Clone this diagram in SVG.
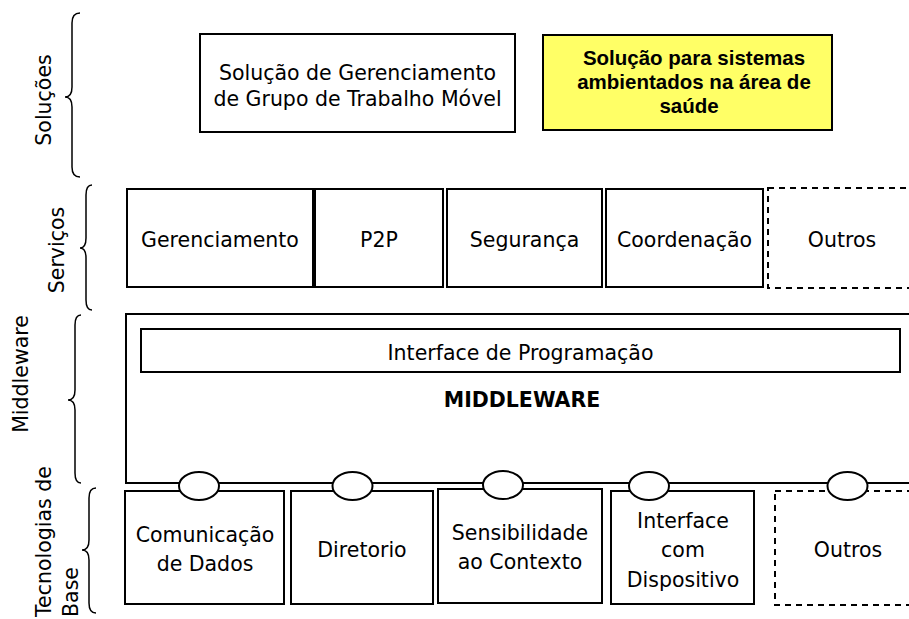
<svg xmlns="http://www.w3.org/2000/svg" width="909" height="619" viewBox="0 0 909 619">
<style>
.box{fill:#fff;stroke:#000;stroke-width:2}
.dash{fill:#fff;stroke:#000;stroke-width:2;stroke-dasharray:6 5}
.t{font-family:"DejaVu Sans",Verdana,sans-serif;font-size:20.5px;fill:#000;text-anchor:middle}
.tb{font-family:"DejaVu Sans",Verdana,sans-serif;font-size:20.5px;font-weight:bold;fill:#000;text-anchor:middle}
.ty{font-family:"Liberation Sans",Arial,sans-serif;font-size:20.5px;font-weight:bold;fill:#000;text-anchor:middle}
.lab{font-family:"DejaVu Sans",Verdana,sans-serif;font-size:20.5px;fill:#000}
.brace{fill:none;stroke:#000;stroke-width:1.5}
.port{fill:#fff;stroke:#000;stroke-width:2}
</style>
<rect width="909" height="619" fill="#fff"/>

<g id="layer-labels">
  <path class="brace" d="M80 13 Q72 13 72 23 L72 87 Q72 97 65 97 Q72 97 72 107 L72 167 Q72 177 80 177"/>
  <text class="lab" text-anchor="middle" transform="translate(51,100) rotate(-90)">Soluções</text>
  <path class="brace" d="M92 185 Q86 185 86 195 L86 238 Q86 248 80 248 Q86 248 86 258 L86 300 Q86 310 92 310"/>
  <text class="lab" text-anchor="middle" transform="translate(64,250) rotate(-90)">Serviços</text>
  <path class="brace" d="M81 315 Q75 315 75 325 L75 390 Q75 400 68 400 Q75 400 75 410 L75 473 Q75 483 81 483"/>
  <text class="lab" text-anchor="middle" transform="translate(28,374) rotate(-90)">Middleware</text>
  <path class="brace" d="M96 488 Q89 488 89 498 L89 540 Q89 550 82 550 Q89 550 89 560 L89 603 Q89 613 96 613"/>
  <text class="lab" transform="translate(51,617) rotate(-90)"><tspan x="0" y="0">Tecnologias de</tspan><tspan x="0" y="27">Base</tspan></text>
</g>

<g id="sol-gerenciamento">
  <rect class="box" x="200" y="34" width="315" height="98"/>
  <text class="t" x="357.5" y="80">Solução de Gerenciamento</text>
  <text class="t" x="357.5" y="106">de Grupo de Trabalho Móvel</text>
</g>
<g id="sol-saude">
  <rect x="543" y="35" width="289" height="95" fill="#ffff66" stroke="#000" stroke-width="2"/>
  <text class="ty" x="694" y="65">Solução para sistemas</text>
  <text class="ty" x="694" y="89">ambientados na área de</text>
  <text class="ty" x="689" y="113">saúde</text>
</g>

<g id="srv-gerenciamento">
  <rect class="box" x="127" y="189" width="186" height="98"/>
  <text class="t" x="220" y="247">Gerenciamento</text>
</g>
<g id="srv-p2p">
  <rect class="box" x="315" y="189" width="128" height="98"/>
  <text class="t" x="379" y="247">P2P</text>
</g>
<g id="srv-seguranca">
  <rect class="box" x="447" y="189" width="155" height="98"/>
  <text class="t" x="524.5" y="247">Segurança</text>
</g>
<g id="srv-coordenacao">
  <rect class="box" x="606" y="189" width="157" height="98"/>
  <text class="t" x="684.5" y="247">Coordenação</text>
</g>
<g id="srv-outros">
  <rect class="dash" x="768" y="188" width="160" height="100"/>
  <text class="t" x="842" y="247">Outros</text>
</g>

<g id="middleware">
  <rect class="box" x="126" y="314" width="800" height="169"/>
  <rect class="box" x="141" y="329" width="759" height="43"/>
  <text class="t" x="520.5" y="360">Interface de Programação</text>
  <text class="tb" x="522" y="407">MIDDLEWARE</text>
</g>

<g id="base-comunicacao">
  <rect class="box" x="125" y="491" width="159" height="113"/>
  <text class="t" x="205" y="542">Comunicação</text>
  <text class="t" x="205" y="571">de Dados</text>
</g>
<g id="base-diretorio">
  <rect class="box" x="291" y="491" width="142" height="113"/>
  <text class="t" x="362" y="557">Diretorio</text>
</g>
<g id="base-sensibilidade">
  <rect class="box" x="438" y="489" width="164" height="114"/>
  <text class="t" x="520" y="540">Sensibilidade</text>
  <text class="t" x="520" y="569">ao Contexto</text>
</g>
<g id="base-interface">
  <rect class="box" x="611" y="491" width="143" height="113"/>
  <text class="t" x="683" y="528">Interface</text>
  <text class="t" x="683" y="557">com</text>
  <text class="t" x="683" y="587">Dispositivo</text>
</g>
<g id="base-outros">
  <rect class="dash" x="775" y="491" width="160" height="114"/>
  <text class="t" x="848" y="557">Outros</text>
</g>

<g id="connectors">
  <ellipse class="port" cx="199" cy="486" rx="20" ry="14"/>
  <ellipse class="port" cx="352.5" cy="486" rx="20" ry="14"/>
  <ellipse class="port" cx="503" cy="485" rx="20" ry="14"/>
  <ellipse class="port" cx="649" cy="486" rx="20" ry="14"/>
  <ellipse class="port" cx="847.5" cy="486" rx="20" ry="14"/>
</g>
</svg>
